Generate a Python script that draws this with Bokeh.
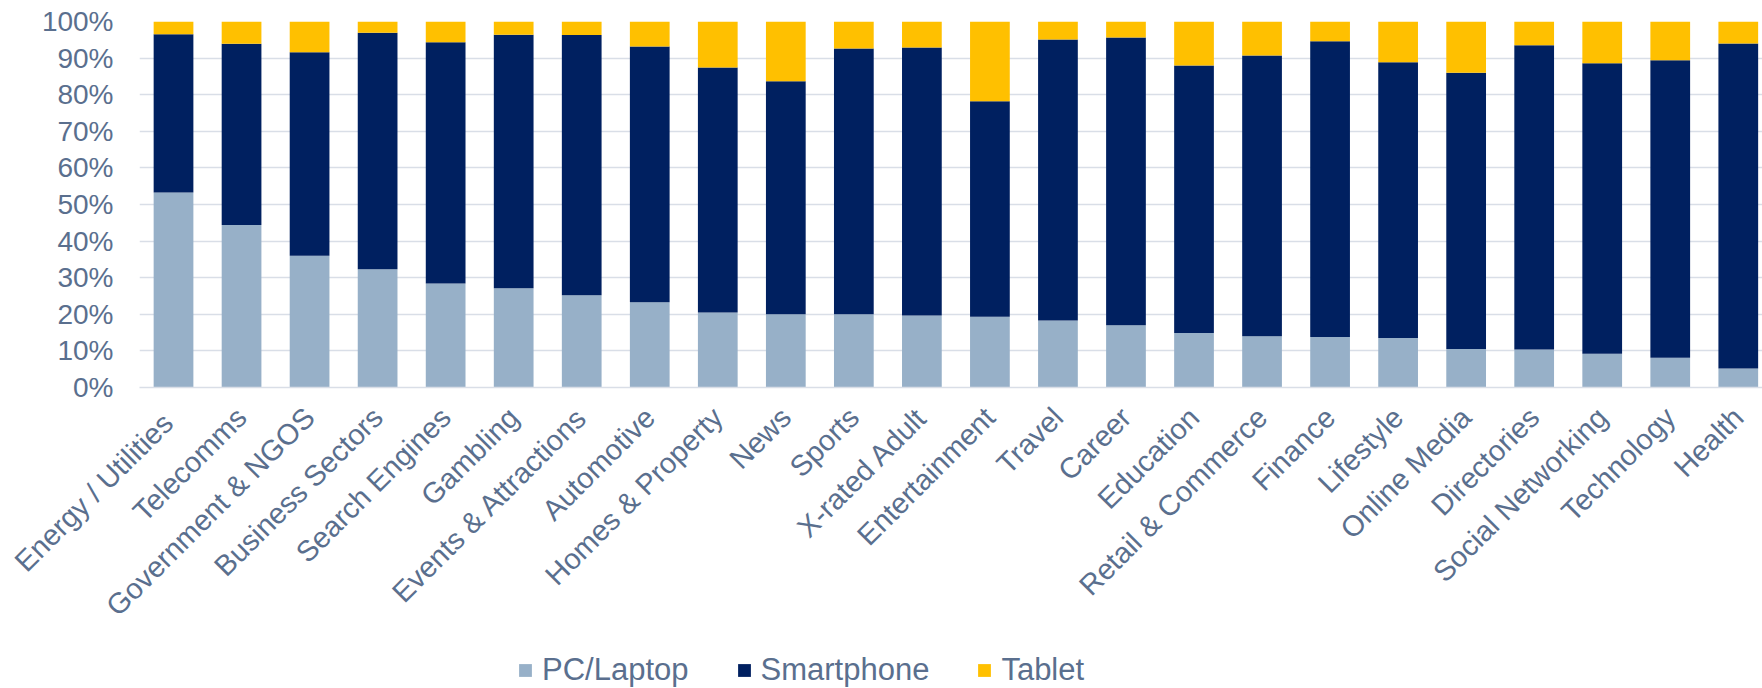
import math
from bokeh.plotting import figure
from bokeh.layouts import column
from bokeh.models import ColumnDataSource, Range1d, FixedTicker, Legend, LegendItem
from bokeh.embed import file_html
from bokeh.resources import INLINE

categories = ["Energy  / Utilities", "Telecomms", "Government & NGOS", "Business Sectors",
              "Search Engines", "Gambling", "Events & Attractions", "Automotive",
              "Homes & Property", "News", "Sports", "X-rated Adult", "Entertainment",
              "Travel", "Career", "Education", "Retail & Commerce", "Finance", "Lifestyle",
              "Online Media", "Directories", "Social Networking", "Technology", "Health"]
pc = [53.3, 44.4, 36.0, 32.3, 28.4, 27.1, 25.2, 23.3, 20.5, 20.0, 20.0, 19.7,
      19.3, 18.3, 17.0, 14.9, 14.0, 13.8, 13.5, 10.5, 10.4, 9.2, 8.1, 5.2]
smartphone = [43.2, 49.5, 55.6, 64.6, 65.9, 69.3, 71.1, 69.9, 66.9, 63.7, 72.6, 73.2,
              58.9, 76.8, 78.6, 73.1, 76.7, 80.8, 75.4, 75.5, 83.1, 79.4, 81.3, 88.8]
tablet = [3.5, 6.1, 8.4, 3.1, 5.7, 3.6, 3.7, 6.8, 12.6, 16.3, 7.4, 7.1,
          21.8, 4.9, 4.4, 12.0, 9.3, 5.4, 11.1, 14.0, 6.5, 11.4, 10.6, 6.0]
series = ["PC/Laptop", "Smartphone", "Tablet"]
colors = ["#97B0C8", "#002060", "#FFC000"]
y_ticks = list(range(0, 101, 10))

TEXT = "#5A6F8E"
GRID = "#D9DEE7"
FONT = "Liberation Sans"

xs = list(range(len(categories)))
src = ColumnDataSource(dict(x=xs, pc=pc, smartphone=smartphone, tablet=tablet))
fields = ["pc", "smartphone", "tablet"]

# ---- main chart ----
p = figure(width=1762, height=644, output_backend="svg", toolbar_location=None,
           x_range=Range1d(-0.5, 23.356), y_range=Range1d(0, 100),
           min_border_left=139, min_border_right=0, min_border_top=21,
           min_border_bottom=257)
p.outline_line_color = None
p.background_fill_color = "white"
p.border_fill_color = "white"

p.vbar_stack(fields, x="x", width=0.584, color=colors, source=src, line_color=None)

p.yaxis.ticker = FixedTicker(ticks=y_ticks)
p.yaxis.major_label_overrides = {t: f"{t}%" for t in y_ticks}
p.yaxis.axis_line_color = None
p.yaxis.major_tick_line_color = None
p.yaxis.minor_tick_line_color = None
p.yaxis.major_tick_out = 0
p.yaxis.major_tick_in = 0
p.yaxis.major_label_standoff = 26
p.yaxis.major_label_text_font = FONT
p.yaxis.major_label_text_font_size = "28px"
p.yaxis.major_label_text_color = TEXT

p.xaxis.ticker = FixedTicker(ticks=xs)
p.xaxis.major_label_overrides = {i: c for i, c in zip(xs, categories)}
p.xaxis.major_label_orientation = math.pi / 4
p.xaxis.axis_line_color = GRID
p.xaxis.axis_line_width = 1.5
p.xaxis.major_tick_line_color = None
p.xaxis.minor_tick_line_color = None
p.xaxis.major_tick_out = 0
p.xaxis.major_tick_in = 0
p.xaxis.major_label_standoff = 25
p.xaxis.major_label_text_font = FONT
p.xaxis.major_label_text_font_size = "29px"
p.xaxis.major_label_text_color = TEXT

p.xgrid.visible = False
p.ygrid.ticker = FixedTicker(ticks=y_ticks)
p.ygrid.grid_line_color = GRID
p.ygrid.grid_line_width = 1.5

# ---- legend strip ----
pl = figure(width=1762, height=44, output_backend="svg", toolbar_location=None,
            x_axis_type=None, y_axis_type=None, x_range=Range1d(0, 1), y_range=Range1d(0, 1),
            min_border=0)
pl.outline_line_color = None
pl.xgrid.visible = False
pl.ygrid.visible = False
lrs = pl.vbar_stack(fields, x="x", width=0.584, color=colors, source=src,
                    line_color=None, visible=False)

legend = Legend(items=[LegendItem(label=s, renderers=[r]) for s, r in zip(series, lrs)],
                orientation="horizontal", location=(378, 0))
legend.label_text_font = FONT
legend.label_text_font_size = "31px"
legend.label_text_color = TEXT
legend.glyph_width = 16
legend.glyph_height = 16
legend.label_standoff = 9
legend.spacing = 47
legend.padding = 0
legend.margin = 0
legend.border_line_color = None
legend.background_fill_alpha = 0
pl.add_layout(legend, "center")

layout = column(p, pl, spacing=0)
open("out.html", "w").write(file_html(layout, INLINE))
